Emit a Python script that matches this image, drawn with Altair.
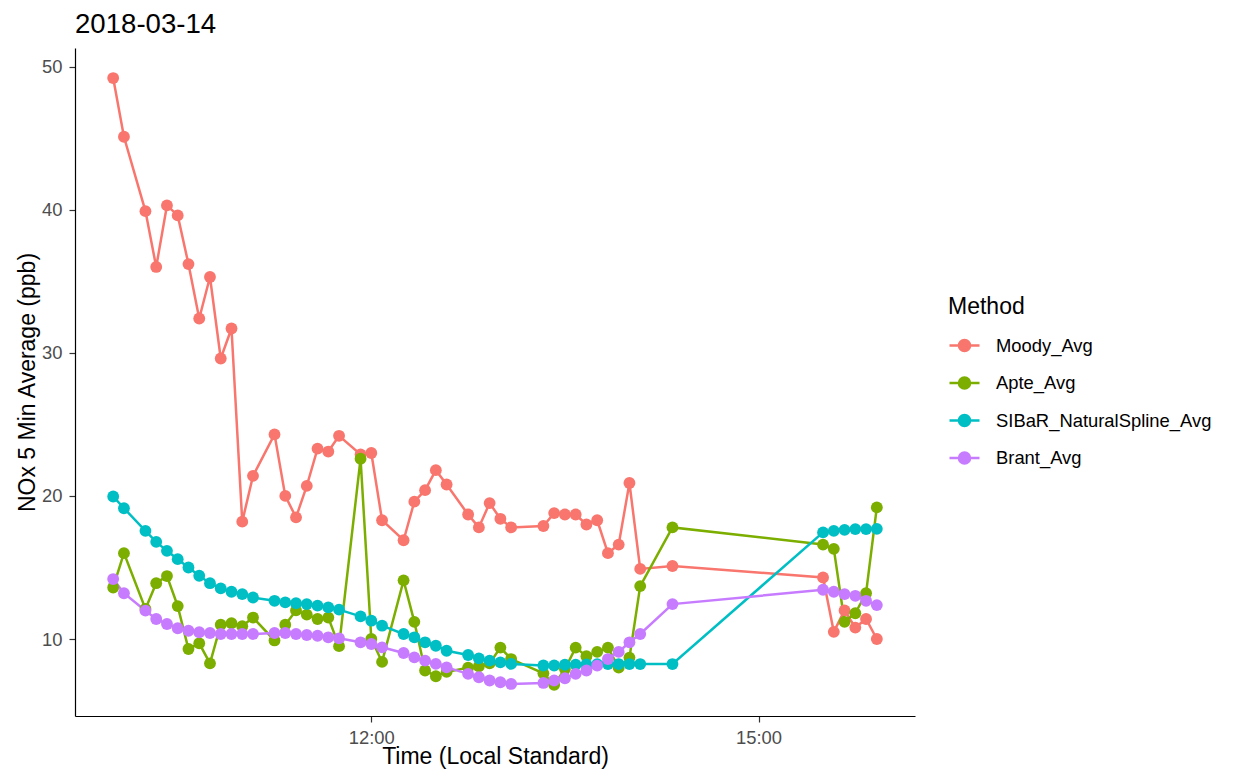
import altair as alt
import pandas as pd

times = ["10:00", "10:05", "10:15", "10:20", "10:25", "10:30", "10:35", "10:40", "10:45", "10:50",
         "10:55", "11:00", "11:05", "11:15", "11:20", "11:25", "11:30", "11:35", "11:40", "11:45",
         "11:55", "12:00", "12:05", "12:15", "12:20", "12:25", "12:30", "12:35", "12:45", "12:50",
         "12:55", "13:00", "13:05", "13:20", "13:25", "13:30", "13:35", "13:40", "13:45", "13:50",
         "13:55", "14:00", "14:05", "14:20", "15:30", "15:35", "15:40", "15:45", "15:50", "15:55"]

moody = [49.2, 45.1, 39.9, 36.0, 40.3, 39.6, 36.2, 32.4, 35.3, 29.6,
         31.7, 18.2, 21.4, 24.3, 20.0, 18.5, 20.7, 23.3, 23.1, 24.2,
         22.9, 23.0, 18.3, 16.9, 19.6, 20.4, 21.8, 20.8, 18.7, 17.8,
         19.5, 18.4, 17.8, 17.9, 18.8, 18.7, 18.7, 18.0, 18.3, 16.0,
         16.6, 20.9, 14.9, 15.1, 14.3, 10.5, 12.0, 10.8, 11.4, 10.0]

apte = [13.6, 16.0, 12.1, 13.9, 14.4, 12.3, 9.3, 9.7, 8.3, 11.0,
        11.1, 10.9, 11.5, 9.9, 11.0, 12.0, 11.7, 11.4, 11.5, 9.5,
        22.6, 10.0, 8.4, 14.1, 11.2, 7.8, 7.4, 7.7, 8.0, 8.1,
        8.3, 9.4, 8.6, 7.6, 6.8, 7.9, 9.4, 8.8, 9.1, 9.4,
        8.0, 8.7, 13.7, 17.8, 16.6, 16.3, 11.2, 11.8, 13.2, 19.2]

sibar = [19.96, 19.14, 17.56, 16.79, 16.16, 15.58, 15.0, 14.42, 13.9, 13.54,
         13.3, 13.14, 12.9, 12.67, 12.56, 12.5, 12.44, 12.33, 12.21, 12.05,
         11.58, 11.28, 10.93, 10.35, 10.12, 9.77, 9.53, 9.18, 8.88, 8.65,
         8.49, 8.37, 8.26, 8.15, 8.15, 8.2, 8.2, 8.22, 8.24, 8.25,
         8.25, 8.25, 8.25, 8.25, 17.45, 17.56, 17.63, 17.68, 17.68, 17.7]

brant = [14.19, 13.2, 11.98, 11.4, 11.05, 10.75, 10.58, 10.47, 10.42, 10.35,
         10.35, 10.35, 10.35, 10.42, 10.42, 10.35, 10.28, 10.23, 10.12, 10.05,
         9.77, 9.65, 9.42, 9.02, 8.72, 8.49, 8.26, 8.02, 7.56, 7.33,
         7.1, 6.98, 6.86, 6.93, 7.1, 7.26, 7.56, 7.8, 8.14, 8.6,
         9.1, 9.77, 10.35, 12.44, 13.44, 13.3, 13.14, 13.02, 12.67, 12.37]

methods = ["Moody_Avg", "Apte_Avg", "SIBaR_NaturalSpline_Avg", "Brant_Avg"]
series = [moody, apte, sibar, brant]
colors = ["#F8766D", "#7CAE00", "#00BFC4", "#C77CFF"]
date = "2018-03-14"

rows = []
for m, vals in zip(methods, series):
    for t, v in zip(times, vals):
        rows.append({"Time": f"{date}T{t}:00", "Method": m, "Value": v})
df = pd.DataFrame(rows)

FONT = "Liberation Sans"

x_enc = alt.X(
    "Time:T",
    title="Time (Local Standard)",
    scale=alt.Scale(domain=[alt.DateTime(year=2018, month=3, date=14, hours=9, minutes=42, seconds=15),
                            alt.DateTime(year=2018, month=3, date=14, hours=16, minutes=12, seconds=45)]),
    axis=alt.Axis(values=[alt.DateTime(year=2018, month=3, date=14, hours=12),
                          alt.DateTime(year=2018, month=3, date=14, hours=15)],
                  format="%H:%M", grid=False),
)
y_enc = alt.Y(
    "Value:Q",
    title="NOx 5 Min Average (ppb)",
    scale=alt.Scale(domain=[4.62, 51.3], nice=False, zero=False),
    axis=alt.Axis(values=[10, 20, 30, 40, 50], grid=False, titlePadding=2),
)

legend_path = "M-1,0H1M0.37,0A0.37,0.37,0,1,1,-0.37,0A0.37,0.37,0,1,1,0.37,0Z"
color_enc = alt.Color(
    "Method:N",
    sort=methods,
    scale=alt.Scale(domain=methods, range=colors),
    legend=alt.Legend(title="Method", orient="none", legendX=873, legendY=248,
                      symbolType=legend_path, symbolSize=900, symbolStrokeWidth=2.5,
                      labelOffset=15, rowPadding=9.5, titlePadding=10, padding=0,
                      labelLimit=500),
)

lines = alt.Chart(df).mark_line(strokeWidth=2.5).encode(x=x_enc, y=y_enc, color=color_enc, order="Time:T")
points = alt.Chart(df).mark_point(filled=True, size=140, opacity=1).encode(x=x_enc, y=y_enc, color=color_enc)

chart = alt.layer(lines, points).properties(
    width=840, height=668,
    title=alt.TitleParams(date, anchor="start", fontSize=27.6, font=FONT, fontWeight="normal",
                          color="black", offset=9, frame="group"),
    autosize=alt.AutoSizeParams(type="none"),
    padding={"left": 67, "top": 40, "right": 300, "bottom": 56},
).configure_view(stroke=None).configure_axis(
    domainColor="#000000", domainWidth=1.2, tickColor="#333333", tickWidth=1.2, tickSize=6,
    labelColor="#4D4D4D", labelFont=FONT, labelFontSize=18.4, labelPadding=7,
    titleFont=FONT, titleFontSize=23, titleFontWeight="normal", titleColor="#000000",
).configure_axisX(titlePadding=-1, labelPadding=6).configure_legend(
    titleFont=FONT, titleFontSize=23, titleFontWeight="normal", titleColor="#000000",
    labelFont=FONT, labelFontSize=18.4, labelColor="#000000",
)

chart.save("out.html", embed_options={"renderer": "svg", "actions": False})
